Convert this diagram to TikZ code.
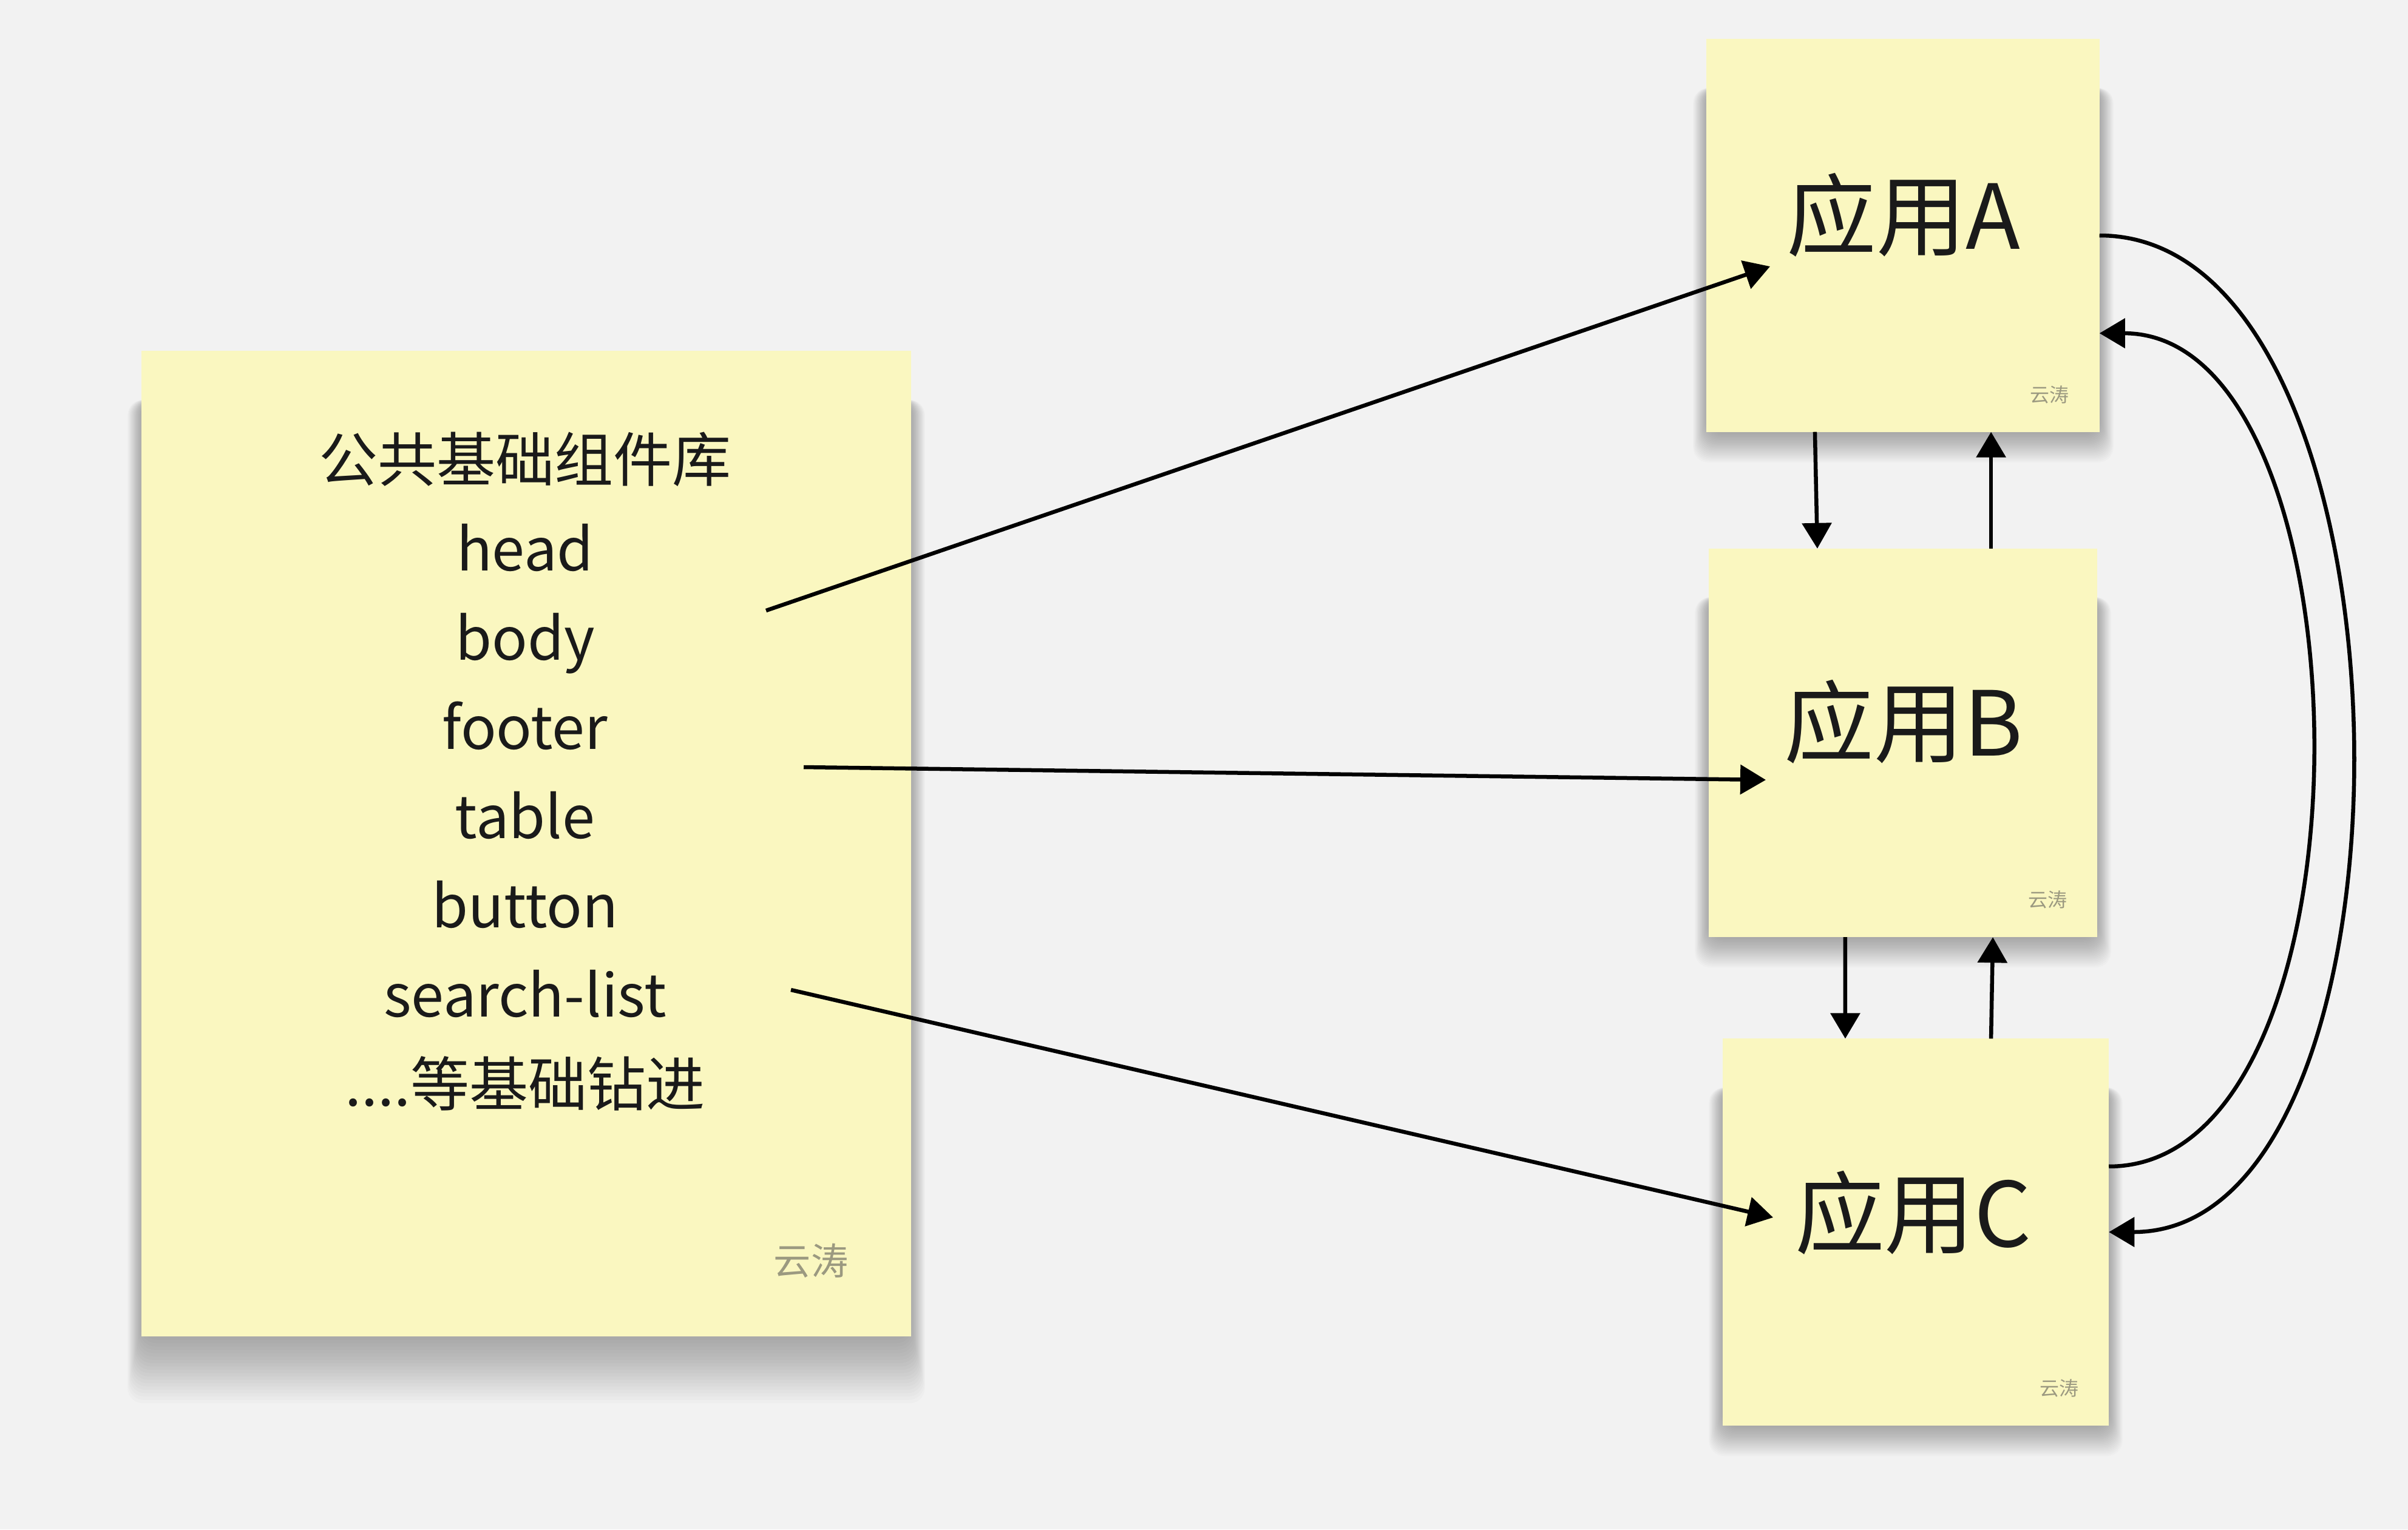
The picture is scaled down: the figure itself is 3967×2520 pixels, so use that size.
\documentclass[tikz,border=0pt]{standalone}
\usepackage{fontspec}
\setmainfont{Noto Sans CJK SC}
\usetikzlibrary{arrows.meta}
\definecolor{canvas}{RGB}{242,242,242}
\definecolor{sticky}{RGB}{250,247,192}
\definecolor{ink}{RGB}{26,26,26}
\definecolor{signgray}{RGB}{155,153,128}

\begin{document}
\begin{tikzpicture}[x=0.01cm,y=-0.01cm,
  note/.style={fill=sticky,draw=none,inner sep=0pt,outer sep=0pt},
  link/.style={-{Triangle[length=0.42cm,width=0.48cm]},line width=0.065cm},
  sign/.style={text=signgray,inner sep=0pt}]
  \useasboundingbox (0,0) rectangle (3967,2520);
  \fill[canvas] (0,0) rectangle (3967,2520);
  % soft shadows under the notes
  \foreach \l/\t/\r/\b/\s in {233/579/1501/2202/5.5,2812/65/3459/712/2.5,2815/904/3455/1544/2.5,2838/1712/3474/2349/2.5}
    \foreach \k in {0,...,19}
      \fill[black,opacity=0.014,rounded corners=0.25cm] ({\l-(19-\k)*1.2},{\t+80}) rectangle ({\r+(19-\k)*1.2},{\b+(20-\k)*\s});
  % shared component library
  \node[note,minimum width=12.68cm,minimum height=16.23cm] (lib) at (867,1390) {};
  \foreach \txt [count=\i from 0] in {公共基础组件库,head,body,footer,table,button,search-list}
    \node[anchor=base,text=ink,font=\fontsize{27.6}{30}\selectfont,inner sep=0pt] (line\i) at (865,793+147*\i) {\txt};
  \node[anchor=base,text=ink,font=\fontsize{27.6}{30}\selectfont,inner sep=0pt] (line7) at (865,1822) {....等基础钻进};
  \node[sign,font=\fontsize{17.4}{20}\selectfont] (libsign) at (1336,2077) {云涛};
  % apps
  \node[note,minimum width=6.47cm,minimum height=6.47cm] (appA) at (3135,388) {};
  \node[note,minimum width=6.4cm,minimum height=6.4cm] (appB) at (3135,1224) {};
  \node[note,minimum width=6.36cm,minimum height=6.37cm] (appC) at (3156,2030) {};
  \node[anchor=base,text=ink,font=\fontsize{42}{46}\selectfont,inner sep=0pt] (nameA) at (3136,410) {应用A};
  \node[anchor=base,text=ink,font=\fontsize{42}{46}\selectfont,inner sep=0pt] (nameB) at (3136,1245) {应用B};
  \node[anchor=base,text=ink,font=\fontsize{42}{46}\selectfont,inner sep=0pt] (nameC) at (3152,2054) {应用C};
  \node[sign,font=\fontsize{9.1}{11}\selectfont] (signA) at (3376,650) {云涛};
  \node[sign,font=\fontsize{9.1}{11}\selectfont] (signB) at (3373,1482) {云涛};
  \node[sign,font=\fontsize{9.1}{11}\selectfont] (signC) at (3392,2287) {云涛};
  % library to apps
  \coordinate (outA) at (1262,1006); \coordinate (inA) at (2916,439);
  \coordinate (outB) at (1324,1264); \coordinate (inB) at (2909,1285);
  \coordinate (outC) at (1303,1631); \coordinate (inC) at (2921,2006);
  \draw[link] (outA) -- (inA);
  \draw[link] (outB) -- (inB);
  \draw[link] (outC) -- (inC);
  % between apps
  \draw[link] ([xshift=-1.45cm]appA.south) -- ([xshift=-1.41cm]appB.north);
  \draw[link] ([xshift=1.45cm]appB.north) -- ([xshift=1.45cm]appA.south);
  \draw[link] ([xshift=-0.95cm]appB.south) -- ([xshift=-1.16cm]appC.north);
  \draw[link] ([xshift=1.24cm]appC.north) -- ([xshift=1.48cm]appB.south);
  \draw[link] (appA.east) .. controls +(542,0) and +(542,0) .. (appC.east);
  \draw[link] ([yshift=1.08cm]appC.east) .. controls +(455,0) and +(455,0) .. ([yshift=-1.61cm]appA.east);
\end{tikzpicture}
\end{document}
